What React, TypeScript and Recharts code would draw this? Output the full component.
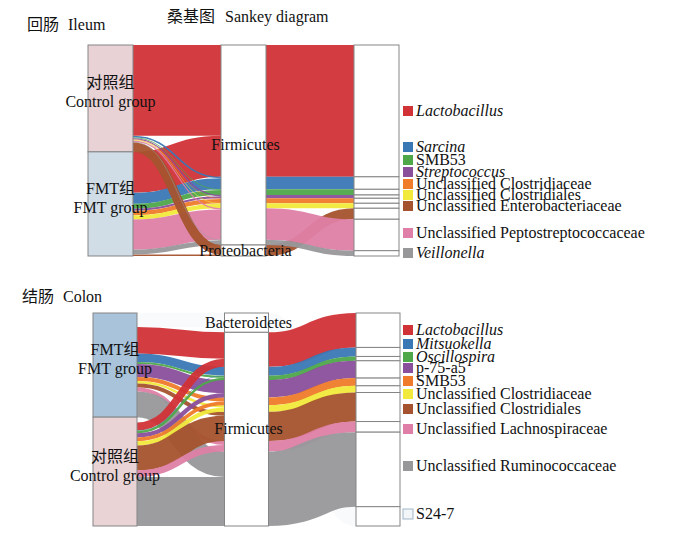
import React from "react";
import { Sankey } from "recharts";

// genus colours, same order in both panels (last one is the pale S24-7)
const palette = ["#d13236", "#3a78b5", "#4ea84a", "#8a4f9b", "#ef7b2b", "#f1ea3c", "#a5532e", "#df7fa7", "#98989b", "#f2f6f9"];
const LIGHT = 9;

// 回肠 Ileum
const ileumGroupCn = ["对照组", "FMT组"];
const ileumGroupEn = ["Control group", "FMT group"];
const ileumGenera = [
  "Lactobacillus",
  "Sarcina",
  "SMB53",
  "Streptococcus",
  "Unclassified Clostridiaceae",
  "Unclassified Clostridiales",
  "Unclassified Enterobacteriaceae",
  "Unclassified Peptostreptococcaceae",
  "Veillonella",
];
const ileumItalic = [true, true, false, true, false, false, false, false, true];
const ileumPhylumOf = ["Firmicutes", "Firmicutes", "Firmicutes", "Firmicutes", "Firmicutes", "Firmicutes", "Proteobacteria", "Firmicutes", "Firmicutes"];
const ileumPhyla = ["Firmicutes", "Proteobacteria"];
const ileumControl = [91, 1.5, 0.8, 1.2, 0.6, 0.6, 9.5, 1.2, 0.6];
const ileumFMT = [41, 11, 4.9, 2.1, 4.4, 4.4, 1.5, 30.3, 4.7];

// 结肠 Colon
const colonGroupCn = ["FMT组", "对照组"];
const colonGroupEn = ["FMT group", "Control group"];
const colonGenera = [
  "Lactobacillus",
  "Mitsuokella",
  "Oscillospira",
  "p-75-a5",
  "SMB53",
  "Unclassified Clostridiaceae",
  "Unclassified Clostridiales",
  "Unclassified Lachnospiraceae",
  "Unclassified Ruminococcaceae",
  "S24-7",
];
const colonItalic = [true, true, true, false, false, false, false, false, false, false];
const colonPhylumOf = ["Firmicutes", "Firmicutes", "Firmicutes", "Firmicutes", "Firmicutes", "Firmicutes", "Firmicutes", "Firmicutes", "Firmicutes", "Bacteroidetes"];
const colonPhyla = ["Bacteroidetes", "Firmicutes"];
const colonFMT = [26.5, 8.5, 2, 13, 4, 2.5, 4, 4, 25.5, 14];
const colonControl = [7.9, 0.5, 2.3, 4.3, 3.7, 4.2, 25, 6.6, 48.9, 5.3];

// legend layout (vertical centres of the legend rows)
const ileumLegendY = [111, 147, 160, 172, 184, 195, 206, 233, 253];
const colonLegendY = [330, 344, 357, 368, 381, 394, 409, 429, 466, 514];

const FONT = "'Liberation Serif', 'Times New Roman', 'Noto Sans CJK SC', serif";
const EDGE = "#858585";

function buildData(
  groupCn: string[],
  groupEn: string[],
  groupValues: number[][],
  genera: string[],
  phylumOf: string[],
  phyla: string[],
  drawOrder: number[]
) {
  const nodes: any[] = [];
  groupCn.forEach((cn, gi) => nodes.push({ name: groupEn[gi], kind: "group", gi, cn, en: groupEn[gi] }));

  // middle column: one slice per genus inside its phylum, so bands line up by genus
  const subIdx: number[] = [];
  phyla.forEach((p) => {
    const members = genera.map((_, i) => i).filter((i) => phylumOf[i] === p);
    const total = members.reduce((s, i) => s + groupValues.reduce((a, v) => a + v[i], 0), 0);
    members.forEach((i, k) => {
      subIdx[i] = nodes.length;
      nodes.push({ name: `${p} - ${genera[i]}`, kind: "phylum", phylum: p, first: k === 0, phylumTotal: total });
    });
  });

  const genusIdx: number[] = [];
  genera.forEach((g, i) => {
    genusIdx[i] = nodes.length;
    nodes.push({ name: g, kind: "genus" });
  });

  const links: any[] = [];
  drawOrder.forEach((gi) =>
    genera.forEach((_, i) => links.push({ source: gi, target: subIdx[i], value: groupValues[gi][i], gi: i }))
  );
  genera.forEach((_, i) =>
    links.push({ source: subIdx[i], target: genusIdx[i], value: groupValues.reduce((a, v) => a + v[i], 0), gi: i })
  );
  // pale bands go underneath
  links.sort((a, b) => (a.gi === LIGHT ? 0 : 1) - (b.gi === LIGHT ? 0 : 1));
  return { nodes, links };
}

const ileumData = buildData(ileumGroupCn, ileumGroupEn, [ileumControl, ileumFMT], ileumGenera, ileumPhylumOf, ileumPhyla, [1, 0]);
const colonData = buildData(colonGroupCn, colonGroupEn, [colonFMT, colonControl], colonGenera, colonPhylumOf, colonPhyla, [0, 1]);

const SankeyLink = (props: any) => {
  const { sourceX, sourceY, sourceControlX, targetX, targetY, targetControlX, linkWidth, payload } = props;
  const light = payload.gi === LIGHT;
  return (
    <path
      d={`M${sourceX},${sourceY}C${sourceControlX},${sourceY} ${targetControlX},${targetY} ${targetX},${targetY}`}
      fill="none"
      stroke={palette[payload.gi]}
      strokeWidth={linkWidth}
      strokeOpacity={light ? 0.5 : 0.95}
    />
  );
};

function makeNode(fills: string[]) {
  return (props: any) => {
    const { x, y, width, height, payload } = props;
    const cx = x + width / 2;
    if (payload.kind === "group") {
      const cy = y + height / 2;
      return (
        <g>
          <rect x={x} y={y} width={width} height={height} fill={fills[payload.gi]} stroke={EDGE} />
          <text x={cx} y={cy - 10} textAnchor="middle" fontSize={16} fontFamily={FONT} fill="#111">
            {payload.cn}
          </text>
          <text x={cx} y={cy + 9} textAnchor="middle" fontSize={16} fontFamily={FONT} fill="#111">
            {payload.en}
          </text>
        </g>
      );
    }
    if (payload.kind === "phylum") {
      if (!payload.first) return <g />;
      const h = (height * payload.phylumTotal) / payload.value;
      return (
        <g>
          <rect x={x} y={y} width={width} height={h} fill="#fff" stroke={EDGE} />
          <text x={cx + 2} y={y + h / 2 + 5} textAnchor="middle" fontSize={16} fontFamily={FONT} fill="#111">
            {payload.phylum}
          </text>
        </g>
      );
    }
    return <rect x={x} y={y} width={width} height={height} fill="#fff" stroke={EDGE} />;
  };
}

function Legend({ genera, italic, ys }: { genera: string[]; italic: boolean[]; ys: number[] }) {
  return (
    <g>
      {genera.map((g, i) => (
        <g key={g}>
          <rect
            x={403}
            y={ys[i] - 5}
            width={10}
            height={10}
            fill={palette[i]}
            stroke={i === LIGHT ? "#9fb5c8" : "none"}
          />
          <text x={416} y={ys[i] + 5} fontSize={16} fontFamily={FONT} fontStyle={italic[i] ? "italic" : "normal"} fill="#111">
            {g}
          </text>
        </g>
      ))}
    </g>
  );
}

export default function App() {
  return (
    <div style={{ position: "absolute", left: 0, top: 0, width: 700, height: 535, background: "#fff" }}>
      <div style={{ position: "absolute", left: 0, top: 0 }}>
        <Sankey
          width={700}
          height={270}
          data={ileumData}
          nodeWidth={45}
          nodePadding={0}
          iterations={0}
          linkCurvature={0.5}
          margin={{ top: 45, right: 301, bottom: 14, left: 88 }}
          node={makeNode(["#e8d2d5", "#d0dce6"])}
          link={SankeyLink}
        />
      </div>
      <div style={{ position: "absolute", left: 0, top: 0 }}>
        <Sankey
          width={700}
          height={535}
          data={colonData}
          nodeWidth={44}
          nodePadding={0}
          iterations={0}
          linkCurvature={0.5}
          margin={{ top: 313, right: 300, bottom: 9, left: 93 }}
          node={makeNode(["#a8c3da", "#e9d3d5"])}
          link={SankeyLink}
        />
      </div>
      <svg
        width={700}
        height={535}
        style={{ position: "absolute", left: 0, top: 0, pointerEvents: "none" }}
      >
        <text y={30} fontSize={16} fontFamily={FONT} fill="#111">
          <tspan x={27}>回肠</tspan>
          <tspan x={68}>Ileum</tspan>
        </text>
        <text y={22} fontSize={16} fontFamily={FONT} fill="#111">
          <tspan x={167}>桑基图</tspan>
          <tspan x={225}>Sankey diagram</tspan>
        </text>
        <text y={302} fontSize={16} fontFamily={FONT} fill="#111">
          <tspan x={22}>结肠</tspan>
          <tspan x={63}>Colon</tspan>
        </text>
        <Legend genera={ileumGenera} italic={ileumItalic} ys={ileumLegendY} />
        <Legend genera={colonGenera} italic={colonItalic} ys={colonLegendY} />
      </svg>
    </div>
  );
}
